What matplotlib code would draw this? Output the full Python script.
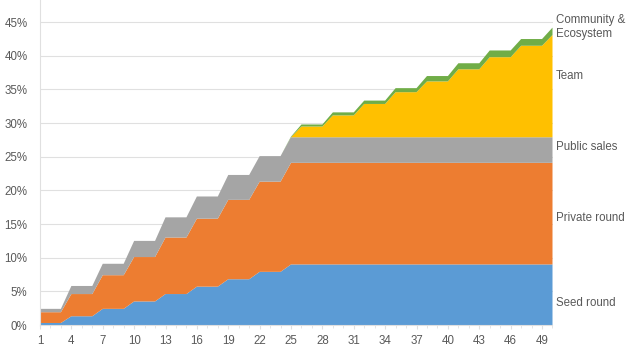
import matplotlib
matplotlib.use("Agg")
from matplotlib import pyplot as plt
from matplotlib.ticker import FuncFormatter, MultipleLocator

months = list(range(1, 51))

# cumulative unlocked share (%) per month
seed_round = [0.3, 0.3, 0.3, 1.3, 1.3, 1.3, 2.4, 2.4, 2.4, 3.5,
              3.5, 3.5, 4.6, 4.6, 4.6, 5.7, 5.7, 5.7, 6.8, 6.8,
              6.8, 7.9, 7.9, 7.9, 9.0, 9.0, 9.0, 9.0, 9.0, 9.0,
              9.0, 9.0, 9.0, 9.0, 9.0, 9.0, 9.0, 9.0, 9.0, 9.0,
              9.0, 9.0, 9.0, 9.0, 9.0, 9.0, 9.0, 9.0, 9.0, 9.0]
private_round = [1.6, 1.6, 1.6, 3.3, 3.3, 3.3, 5.0, 5.0, 5.0, 6.6,
                 6.6, 6.6, 8.4, 8.4, 8.4, 10.1, 10.1, 10.1, 11.8, 11.8,
                 11.8, 13.4, 13.4, 13.4, 15.1, 15.1, 15.1, 15.1, 15.1, 15.1,
                 15.1, 15.1, 15.1, 15.1, 15.1, 15.1, 15.1, 15.1, 15.1, 15.1,
                 15.1, 15.1, 15.1, 15.1, 15.1, 15.1, 15.1, 15.1, 15.1, 15.1]
public_sales = [0.5, 0.5, 0.5, 1.2, 1.2, 1.2, 1.7, 1.7, 1.7, 2.4,
                2.4, 2.4, 3.0, 3.0, 3.0, 3.3, 3.3, 3.3, 3.7, 3.7,
                3.7, 3.8, 3.8, 3.8, 3.8, 3.8, 3.8, 3.8, 3.8, 3.8,
                3.8, 3.8, 3.8, 3.8, 3.8, 3.8, 3.8, 3.8, 3.8, 3.8,
                3.8, 3.8, 3.8, 3.8, 3.8, 3.8, 3.8, 3.8, 3.8, 3.8]
team = [0, 0, 0, 0, 0, 0, 0, 0, 0, 0,
        0, 0, 0, 0, 0, 0, 0, 0, 0, 0,
        0, 0, 0, 0, 0, 1.6, 1.6, 1.6, 3.25, 3.25,
        3.25, 4.95, 4.95, 4.95, 6.7, 6.7, 6.7, 8.3, 8.3, 8.3,
        10.1, 10.1, 10.1, 11.9, 11.9, 11.9, 13.6, 13.6, 13.6, 15.2]
community = [0, 0, 0, 0, 0, 0, 0, 0, 0, 0,
             0, 0, 0, 0, 0, 0, 0, 0, 0, 0,
             0, 0, 0, 0, 0.1, 0.3, 0.3, 0.3, 0.45, 0.45,
             0.45, 0.5, 0.5, 0.5, 0.6, 0.6, 0.6, 0.8, 0.8, 0.8,
             0.9, 0.9, 0.9, 1.0, 1.0, 1.0, 1.0, 1.0, 1.0, 1.1]

series_labels = ["Seed round", "Private round", "Public sales", "Team",
                 "Community &\nEcosystem"]
label_y = [3.3, 15.9, 26.45, 37.0, 44.3]
colors = ["#5B9BD5", "#ED7D31", "#A5A5A5", "#FFC000", "#70AD47"]
text_color = "#595959"
grid_color = "#E0E0E0"

plt.rcParams["font.family"] = ["Liberation Sans", "DejaVu Sans"]

fig = plt.figure(figsize=(6.4, 3.61), dpi=100)
ax = fig.add_axes([40 / 640, 36 / 361, 512.5 / 640, 325 / 361])

ax.stackplot(months, seed_round, private_round, public_sales, team, community,
             colors=colors, linewidth=0, zorder=2)

ax.set_xlim(1, 50)
ax.set_ylim(0, 48.3)
ax.set_yticks(range(0, 50, 5))
ax.yaxis.set_major_formatter(FuncFormatter(lambda v, p: f"{v:.0f}%"))
ax.set_xticks(range(1, 51, 3))
ax.xaxis.set_minor_locator(MultipleLocator(1))
ax.grid(axis="y", color=grid_color, linewidth=0.8, zorder=0)

for side in ["top", "right"]:
    ax.spines[side].set_visible(False)
for side in ["left", "bottom"]:
    ax.spines[side].set_color(grid_color)
    ax.spines[side].set_linewidth(0.8)

ax.tick_params(axis="y", length=0, labelsize=8.3, labelcolor=text_color, pad=9)
ax.tick_params(axis="x", which="major", length=3, color=grid_color,
               labelsize=8.3, labelcolor=text_color, pad=4)
ax.tick_params(axis="x", which="minor", length=2.5, color=grid_color)

for name, y in zip(series_labels, label_y):
    ax.text(50.35, y, name, fontsize=8.3, color=text_color, va="center",
            ha="left", linespacing=1.25, clip_on=False)

fig.savefig("out.png", dpi=100)
